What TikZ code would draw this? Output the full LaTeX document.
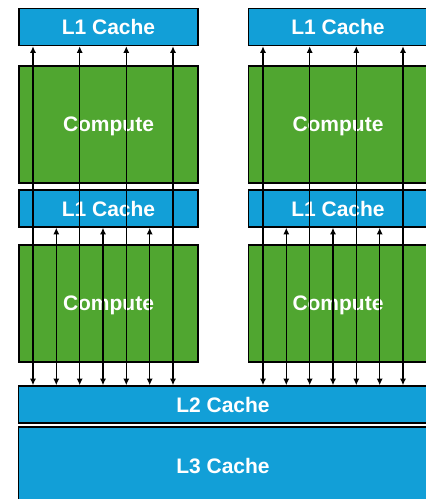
\documentclass[tikz,border=0pt]{standalone}
\usepackage{fontspec}
\setmainfont{Liberation Sans}
\usetikzlibrary{arrows.meta}
\definecolor{cblue}{RGB}{18,159,215}
\definecolor{cgreen}{RGB}{80,166,48}

\begin{document}
\begin{tikzpicture}[x=1pt,y=-1pt,
  cache/.style={draw=black,line width=1.6pt,fill=cblue,text=white,
                font=\fontsize{21}{24}\selectfont\bfseries,inner sep=0pt,
                text depth=0pt},
  comp/.style={cache,fill=cgreen,minimum width=179pt,minimum height=117pt},
  l1/.style={cache,minimum width=179pt,minimum height=37pt},
  arr/.style={{Latex[length=6.5pt,width=6pt]}-{Latex[length=6.5pt,width=6pt]},line width=1.2pt}
]
\useasboundingbox (0,0) rectangle (426,499);
\clip (0,0) rectangle (426,499);
% left core
\node[l1]   (la1) at (108.5,27)    {L1 Cache};
\node[comp] (lc1) at (108.5,124.5) {Compute};
\node[l1]   (la2) at (108.5,208.5) {L1 Cache};
\node[comp] (lc2) at (108.5,303.5) {Compute};
% right core
\node[l1]   (ra1) at (338,27)      {L1 Cache};
\node[comp] (rc1) at (338,124.5)   {Compute};
\node[l1]   (ra2) at (338,208.5)   {L1 Cache};
\node[comp] (rc2) at (338,303.5)   {Compute};
% shared caches
\node[cache,minimum width=409pt,minimum height=37pt] (l2) at (223,404.5) {L2 Cache};
\node[cache,minimum width=409pt,minimum height=78pt] (l3) at (223,466)   {L3 Cache};
% links to the upper and lower L1
\foreach \x in {33,79.7,126.3,173}
  \draw[arr] (l2.north -| \x,0) -- (la1.south -| \x,0);
\foreach \x in {56.3,103,149.7}
  \draw[arr] (l2.north -| \x,0) -- (la2.south -| \x,0);
\foreach \x in {263,309.7,356.3,403}
  \draw[arr] (l2.north -| \x,0) -- (ra1.south -| \x,0);
\foreach \x in {286.3,333,379.7}
  \draw[arr] (l2.north -| \x,0) -- (ra2.south -| \x,0);
\end{tikzpicture}
\end{document}
